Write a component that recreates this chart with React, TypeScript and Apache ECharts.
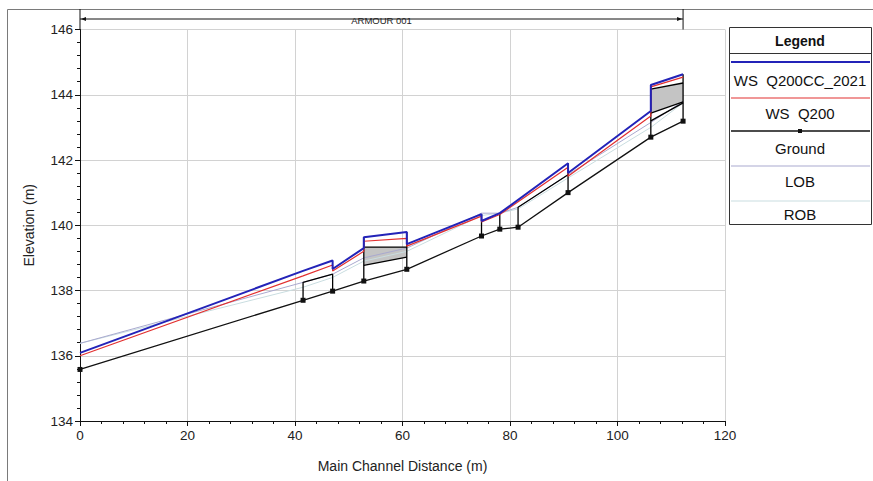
import React, { useEffect, useRef } from "react";
import * as echarts from "echarts";

const X_RANGE = [0, 120];
const Y_RANGE = [134, 146];

const WS_CC = [
  [0, 136.09], [41.5, 138.6], [47, 138.92], [47, 138.66], [52.8, 139.3], [52.8, 139.63],
  [60.8, 139.79], [60.8, 139.42], [74.7, 140.34], [74.7, 140.13], [78.1, 140.37],
  [90.8, 141.9], [90.8, 141.6], [106.2, 143.5], [106.2, 144.3], [112.2, 144.63],
];
const WS_Q200 = [
  [0, 136.0], [41.5, 138.45], [47, 138.78], [47, 138.6], [52.8, 139.2], [52.8, 139.51],
  [60.8, 139.6], [60.8, 139.36], [74.7, 140.28], [74.7, 140.1], [78.1, 140.33],
  [90.8, 141.78], [90.8, 141.5], [106.2, 143.35], [106.2, 144.24], [112.2, 144.54],
];
const GROUND = [
  [0, 135.58], [41.5, 137.7], [47, 137.98], [52.8, 138.29], [60.8, 138.65], [74.7, 139.67],
  [78.1, 139.88], [81.5, 139.94], [90.8, 141.0], [106.2, 142.7], [112.2, 143.19],
];
const LOB = [
  [0, 136.38], [41.5, 138.25], [47, 138.5], [52.8, 139.0], [60.8, 139.3], [74.7, 140.37],
  [78.1, 140.37], [81.5, 140.55], [90.8, 141.55], [106.2, 143.15], [112.2, 143.8],
];
const ROB = [
  [0, 136.38], [41.5, 138.1], [47, 138.4], [52.8, 138.9], [60.8, 139.2], [74.7, 140.3],
  [78.1, 140.37], [81.5, 140.5], [90.8, 141.45], [106.2, 143.0], [112.2, 143.75],
];
const DECK_FILLS = [
  [[52.8, 139.33], [60.8, 139.33], [60.8, 139.02], [52.8, 138.77]],
  [[106.2, 144.17], [112.2, 144.36], [112.2, 143.78], [106.2, 143.44]],
];
const STRUCT_LINES = [
  [[41.5, 137.7], [41.5, 138.25], [47, 138.5], [47, 137.98]],
  [[52.8, 138.29], [52.8, 139.63]],
  [[60.8, 138.65], [60.8, 139.79]],
  [[52.8, 138.77], [60.8, 139.02]],
  [[52.8, 139.33], [60.8, 139.33]],
  [[74.7, 139.67], [74.7, 140.34]],
  [[78.1, 139.88], [78.1, 140.37]],
  [[81.5, 139.94], [81.5, 140.55], [90.8, 141.55]],
  [[90.8, 141.0], [90.8, 141.9]],
  [[106.2, 142.7], [106.2, 144.3]],
  [[112.2, 143.19], [112.2, 144.63]],
  [[106.2, 144.17], [112.2, 144.36]],
  [[106.2, 143.44], [112.2, 143.78]],
  [[106.2, 143.2], [112.2, 143.75]],
];
const ANNOT_END = 112.2;
const ANNOT_LABEL = "ARMOUR 001";
const LEGEND_TITLE = "Legend";
const LEGEND_NAMES = ["WS  Q200CC_2021", "WS  Q200", "Ground", "LOB", "ROB"];

const FONT = "'Liberation Sans', Arial, sans-serif";
const BLUE = "#2323b8";
const RED = "#e23030";
const LOB_C = "#a9a9cf";
const ROB_C = "#c9dde0";

export default function App() {
  const ref = useRef<HTMLDivElement>(null);
  useEffect(() => {
    const chart = echarts.init(ref.current!, null, { renderer: "svg" });
    const structSeries = STRUCT_LINES.map((pts) => ({
      type: "line",
      data: pts,
      symbol: "none",
      lineStyle: { color: "#000", width: 1.3 },
      z: 5,
      silent: true,
    }));
    const option: any = {
      animation: false,
      textStyle: { fontFamily: FONT },
      grid: { left: 80, right: 148, top: 29.5, bottom: 60 },
      xAxis: {
        type: "value",
        min: X_RANGE[0],
        max: X_RANGE[1],
        interval: 20,
        name: "Main Channel Distance (m)",
        nameLocation: "middle",
        nameGap: 38,
        nameTextStyle: { fontSize: 14, color: "#222", fontFamily: FONT },
        axisLine: { lineStyle: { color: "#111", width: 1 } },
        axisTick: { length: 5, lineStyle: { color: "#111" } },
        minorTick: { show: true, splitNumber: 5, length: 3, lineStyle: { color: "#111" } },
        axisLabel: { fontSize: 13.5, color: "#222", margin: 7, fontFamily: FONT },
        splitLine: { show: true, lineStyle: { color: "#d2d2d2", width: 1 } },
      },
      yAxis: {
        type: "value",
        min: Y_RANGE[0],
        max: Y_RANGE[1],
        interval: 2,
        name: "Elevation (m)",
        nameLocation: "middle",
        nameGap: 44,
        nameTextStyle: { fontSize: 14, color: "#222", fontFamily: FONT },
        axisLine: { show: true, lineStyle: { color: "#111", width: 1 } },
        axisTick: { show: true, length: 5, lineStyle: { color: "#111" } },
        minorTick: { show: true, splitNumber: 5, length: 3, lineStyle: { color: "#111" } },
        axisLabel: { fontSize: 13.5, color: "#222", margin: 7, fontFamily: FONT },
        splitLine: { show: true, lineStyle: { color: "#d2d2d2", width: 1 } },
      },
      series: [
        {
          type: "custom",
          data: DECK_FILLS.map((p) => p[0]),
          silent: true,
          z: 2,
          renderItem: (params: any, api: any) => {
            const poly = DECK_FILLS[params.dataIndex];
            return {
              type: "polygon",
              shape: { points: poly.map((p) => api.coord(p)) },
              style: { fill: "#c4c4c4", stroke: "none" },
            };
          },
        },
        { type: "line", name: "ROB", data: ROB, symbol: "none", lineStyle: { color: ROB_C, width: 1 }, z: 4 },
        { type: "line", name: "LOB", data: LOB, symbol: "none", lineStyle: { color: LOB_C, width: 1 }, z: 4 },
        ...structSeries,
        {
          type: "line",
          name: "Ground",
          data: GROUND,
          symbol: "rect",
          symbolSize: 5,
          itemStyle: { color: "#111" },
          lineStyle: { color: "#111", width: 1.3 },
          z: 5,
        },
        { type: "line", name: "WS  Q200", data: WS_Q200, symbol: "none", lineStyle: { color: RED, width: 1.2 }, z: 6 },
        { type: "line", name: "WS  Q200CC_2021", data: WS_CC, symbol: "none", lineStyle: { color: BLUE, width: 2 }, z: 7 },
      ],
    };
    chart.setOption(option);

    const [ax0, yTop] = chart.convertToPixel({ gridIndex: 0 }, [X_RANGE[0], Y_RANGE[1]]) as number[];
    const [ax1] = chart.convertToPixel({ gridIndex: 0 }, [ANNOT_END, Y_RANGE[1]]) as number[];
    const ay = 19;
    const lx0 = 729, lx1 = 871;
    const lineYs = [62, 98, 131, 166, 201];
    const textYs = [80, 113, 148, 181, 214];
    const colors = [BLUE, RED, "#111", LOB_C, ROB_C];
    const widths = [2, 1.2, 1.3, 1, 1];
    const graphics: any[] = [
      { type: "rect", silent: true, z: 0, shape: { x: 7.5, y: 9.5, width: 900, height: 500 }, style: { fill: "none", stroke: "#7a7a7a", lineWidth: 1 } },
      { type: "line", silent: true, shape: { x1: ax0, y1: 9, x2: ax0, y2: yTop }, style: { stroke: "#111", lineWidth: 1 } },
      { type: "line", silent: true, shape: { x1: ax0, y1: ay, x2: ax1, y2: ay }, style: { stroke: "#111", lineWidth: 1 } },
      { type: "line", silent: true, shape: { x1: ax1, y1: 9, x2: ax1, y2: yTop }, style: { stroke: "#111", lineWidth: 1 } },
      { type: "polygon", silent: true, shape: { points: [[ax0 + 1, ay], [ax0 + 6, ay - 2], [ax0 + 6, ay + 2]] }, style: { fill: "#111" } },
      { type: "polygon", silent: true, shape: { points: [[ax1 - 1, ay], [ax1 - 6, ay - 2], [ax1 - 6, ay + 2]] }, style: { fill: "#111" } },
      { type: "text", silent: true, x: (ax0 + ax1) / 2, y: ay + 1.5, style: { text: ANNOT_LABEL, fontSize: 9.5, fontFamily: FONT, fill: "#222", align: "center", verticalAlign: "middle" } },
      { type: "rect", silent: true, shape: { x: lx0 + 0.5, y: 27.5, width: lx1 - lx0, height: 197 }, style: { fill: "#fff", stroke: "#333", lineWidth: 1 } },
      { type: "line", silent: true, shape: { x1: lx0, y1: 53.5, x2: lx1, y2: 53.5 }, style: { stroke: "#333", lineWidth: 1 } },
      { type: "text", silent: true, x: (lx0 + lx1) / 2, y: 40.5, style: { text: LEGEND_TITLE, fontSize: 14, fontWeight: "bold", fontFamily: FONT, fill: "#111", align: "center", verticalAlign: "middle" } },
    ];
    LEGEND_NAMES.forEach((name, i) => {
      graphics.push({ type: "line", silent: true, shape: { x1: lx0 + 2, y1: lineYs[i], x2: lx1 - 1, y2: lineYs[i] }, style: { stroke: colors[i], lineWidth: widths[i] } });
      if (i === 2) {
        graphics.push({ type: "rect", silent: true, shape: { x: (lx0 + lx1) / 2 - 2, y: lineYs[i] - 2, width: 4, height: 4 }, style: { fill: "#111" } });
      }
      graphics.push({ type: "text", silent: true, x: (lx0 + lx1) / 2, y: textYs[i], style: { text: name, fontSize: 15, fontFamily: FONT, fill: "#111", align: "center", verticalAlign: "middle" } });
    });
    chart.setOption({ graphic: graphics });
    return () => chart.dispose();
  }, []);
  return <div ref={ref} style={{ position: "absolute", left: 0, top: 0, width: 873, height: 481 }} />;
}
